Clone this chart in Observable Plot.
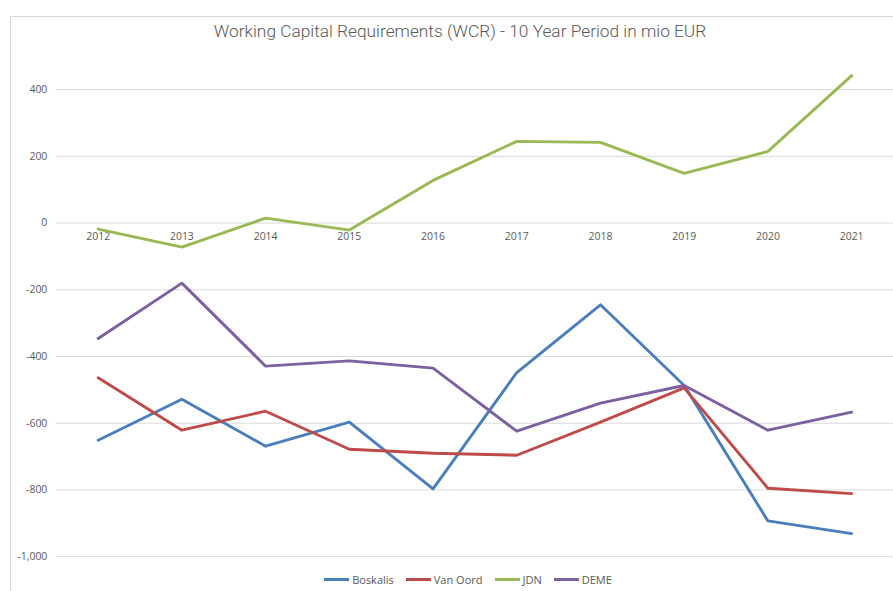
<!DOCTYPE html>
<html>
<head>
<meta charset="utf-8">
<script src="https://cdn.jsdelivr.net/npm/d3@7"></script>
<script src="https://cdn.jsdelivr.net/npm/@observablehq/plot@0.6"></script>
<style>
  body { margin: 0; background: #fff; font-family: "Open Sans", sans-serif; }
  #wrap { position: relative; width: 893px; height: 591px; overflow: hidden; }
  #frame { position: absolute; left: 10px; top: 16px; width: 900px; height: 590px; border: 1px solid #d9d9d9; box-sizing: border-box; }
  #title { position: absolute; top: 21px; left: 0; width: 920px; text-align: center; font-family: Roboto, sans-serif; font-weight: 300; font-size: 17.3px; color: #595959; }
  #chart { position: absolute; left: 0; top: 0; }
  #legend { position: absolute; top: 572px; left: 0; width: 936px; display: flex; justify-content: center; gap: 12px; font-size: 11px; color: #595959; }
  .item { display: flex; align-items: center; }
  .sw { width: 25px; height: 3px; margin-right: 3px; }
</style>
</head>
<body>
<div id="wrap">
  <div id="frame"></div>
  <div id="chart"></div>
  <div id="title">Working Capital Requirements (WCR) - 10 Year Period in mio EUR</div>
  <div id="legend"></div>
</div>
<script>
const years = ["2012","2013","2014","2015","2016","2017","2018","2019","2020","2021"];
const seriesNames = ["Boskalis","Van Oord","JDN","DEME"];
const boskalis = [-651, -528, -669, -597, -797, -448, -245, -487, -893, -931];
const vanOord  = [-464, -621, -564, -678, -690, -696, -597, -494, -795, -811];
const jdn      = [-18, -72, 15, -21, 128, 245, 242, 149, 215, 442];
const deme     = [-346, -180, -429, -413, -435, -624, -540, -487, -621, -567];
const colors   = ["#4a7ebb", "#be4b48", "#98b954", "#7d60a0"];
const yTicks   = [-1000, -800, -600, -400, -200, 0, 200, 400];

const valuesBySeries = [boskalis, vanOord, jdn, deme];
const data = [];
seriesNames.forEach((s, i) => years.forEach((y, j) => data.push({series: s, year: y, value: valuesBySeries[i][j]})));

const chart = Plot.plot({
  width: 896,
  height: 572,
  marginTop: 56,
  marginBottom: 14,
  marginLeft: 56,
  marginRight: 0,
  style: { fontFamily: "Open Sans, sans-serif", fontSize: "10.5px", color: "#595959", background: "transparent" },
  x: { type: "point", domain: years, padding: 0.5, axis: null },
  y: { domain: [-1000, 500], axis: null },
  color: { domain: seriesNames, range: colors },
  marks: [
    Plot.ruleY(yTicks, { stroke: "#d9d9d9", strokeWidth: 1 }),
    Plot.axisY({ ticks: yTicks, tickSize: 0, tickPadding: 9, tickFormat: d => d.toLocaleString("en-US"), label: null, fill: "#595959", fontSize: 10.5 }),
    Plot.text(years, { x: d => d, y: () => 0, dy: 14, text: d => d, fill: "#595959", fontSize: 10.5 }),
    Plot.line(data, { x: "year", y: "value", z: "series", stroke: "series", strokeWidth: 2.9, strokeLinejoin: "round", strokeLinecap: "round" })
  ]
});
document.getElementById("chart").appendChild(chart);

const legend = document.getElementById("legend");
seriesNames.forEach((s, i) => {
  const it = document.createElement("div");
  it.className = "item";
  it.innerHTML = `<span class="sw" style="background:${colors[i]}"></span><span>${s}</span>`;
  legend.appendChild(it);
});
</script>
</body>
</html>
